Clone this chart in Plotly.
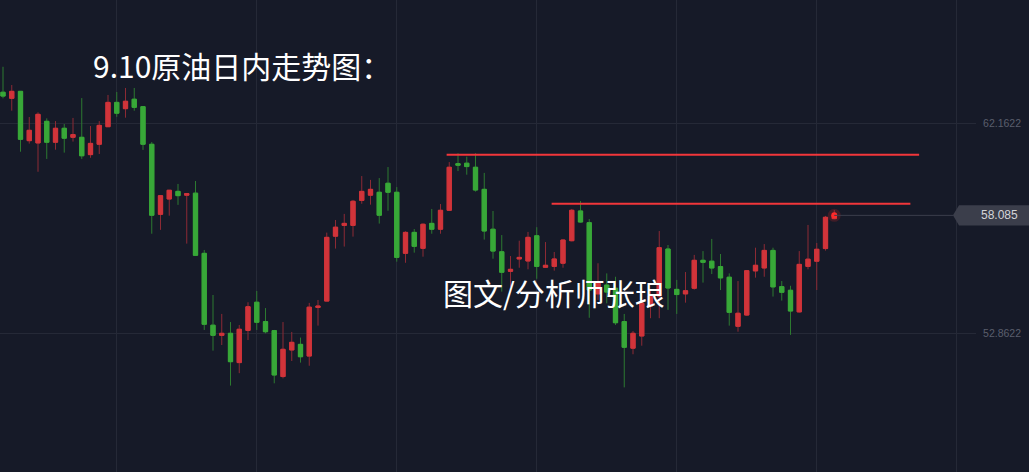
import plotly.graph_objects as go

# ---- data ----
open_ = [63.55, 63.28, 63.59, 61.40, 61.30, 62.26, 61.33, 61.95, 61.55, 61.55,
         60.78, 61.24, 62.02, 63.10, 62.82, 63.24, 62.91, 61.24, 58.13, 58.81,
         59.15, 58.98, 59.07, 56.40, 53.21, 52.76, 52.85, 51.55, 52.98, 54.23,
         53.37, 52.97, 50.93, 52.11, 52.36, 51.84, 54.00, 54.28, 57.16, 57.64,
         57.64, 58.75, 58.98, 59.11, 59.51, 59.11, 56.40, 57.33, 56.62, 57.73,
         57.47, 58.31, 60.38, 60.40, 60.22, 59.24, 57.47, 56.47, 55.60, 56.15,
         56.06, 57.18, 55.78, 55.82, 55.96, 56.96, 58.28, 57.76, 54.60, 54.99,
         54.85, 53.37, 52.19, 52.73, 54.06, 54.51, 56.59, 54.80, 54.60, 54.85,
         56.09, 56.05, 55.81, 55.34, 53.16, 53.66, 55.62, 55.75, 56.53, 54.92,
         54.76, 53.80, 55.82, 56.05, 56.61, 57.94]
high = [64.68, 63.87, 63.59, 62.45, 62.66, 62.39, 62.27, 62.14, 62.41, 63.29,
        62.05, 62.27, 63.43, 63.56, 63.74, 63.74, 62.94, 61.34, 58.99, 59.21,
        59.48, 59.07, 59.61, 56.55, 54.55, 53.71, 53.35, 53.22, 54.23, 54.73,
        53.97, 53.00, 53.35, 52.91, 52.66, 54.20, 54.33, 57.32, 57.88, 58.15,
        58.77, 59.83, 59.66, 59.74, 60.23, 59.34, 57.38, 57.48, 57.73, 58.37,
        58.59, 60.45, 60.84, 60.69, 60.84, 59.97, 58.28, 57.21, 56.28, 56.96,
        57.35, 57.56, 56.90, 56.46, 57.02, 58.37, 58.72, 57.92, 55.96, 55.51,
        55.36, 53.71, 52.95, 54.82, 54.77, 57.39, 56.77, 55.22, 55.57, 56.33,
        56.50, 57.04, 56.37, 55.51, 55.17, 55.66, 56.65, 56.81, 56.65, 55.17,
        54.96, 56.50, 57.66, 56.86, 58.06, 58.32]
low = [63.28, 62.73, 60.91, 61.27, 60.02, 60.59, 61.00, 60.87, 61.36, 60.59,
       60.64, 60.81, 62.02, 62.46, 62.42, 62.73, 60.99, 57.27, 57.44, 58.07,
       58.55, 56.83, 56.31, 53.00, 52.08, 52.33, 50.53, 51.08, 52.55, 53.00,
       52.85, 50.63, 50.85, 51.62, 51.55, 51.41, 53.19, 54.28, 56.61, 56.70,
       57.14, 58.60, 58.56, 57.72, 58.29, 56.03, 55.98, 56.43, 56.25, 57.27,
       57.27, 58.31, 60.05, 59.89, 59.14, 57.01, 56.16, 54.70, 54.92, 55.76,
       55.69, 55.27, 55.76, 55.63, 55.76, 56.93, 57.76, 53.54, 54.33, 54.18,
       53.22, 50.45, 51.92, 52.30, 53.52, 53.52, 53.89, 53.71, 54.21, 54.79,
       55.10, 55.48, 54.77, 53.19, 52.92, 53.63, 55.32, 55.36, 54.48, 54.30,
       52.78, 53.77, 55.69, 54.77, 56.52, 57.91]
close = [63.38, 63.59, 61.46, 61.86, 62.57, 61.33, 61.95, 61.51, 61.67, 60.73,
         61.28, 62.08, 63.10, 62.62, 63.15, 62.88, 61.24, 58.09, 58.96, 59.20,
         58.96, 59.05, 56.31, 53.25, 52.76, 52.85, 51.59, 53.03, 54.03, 53.34,
         52.92, 51.00, 52.14, 52.45, 51.81, 54.01, 54.06, 57.11, 57.56, 57.73,
         58.71, 59.15, 59.24, 58.09, 59.11, 56.22, 57.33, 56.71, 57.69, 57.47,
         58.31, 60.22, 60.31, 60.25, 59.21, 57.39, 56.50, 55.56, 55.69, 56.22,
         57.11, 55.82, 55.87, 56.15, 56.99, 58.31, 57.79, 54.77, 55.13, 54.68,
         53.32, 52.23, 52.85, 54.18, 54.51, 56.65, 54.86, 54.57, 54.74, 56.09,
         56.00, 55.75, 55.31, 53.78, 53.74, 55.63, 55.87, 56.53, 54.91, 54.67,
         53.84, 55.91, 56.14, 56.58, 58.00, 58.085]

# resistance lines: (level, start index, end index)
resistance_levels = [60.78, 58.60]
resistance_start = [50.7, 62.7]
resistance_end = [104.7, 103.7]

y_ticks = [52.8622, 62.1622]
title_text = "9.10原油日内走势图："
author_text = "图文/分析师张琅"
last_label = "58.085"

# ---- style ----
BG = "#161a28"
GRID = "#252937"
UP_BODY = "#d1343a"
DOWN_BODY = "#38a838"
UP_WICK = "#8c2a34"
DOWN_WICK = "#2c7a30"
LINE_RED = "#f2363a"
Y_MIN, Y_MAX = 46.694, 67.644
X_MIN, X_MAX = -0.343, 111.2

x = list(range(len(open_)))

fig = go.Figure()

# wicks (full range, dark colours)
fig.add_trace(go.Candlestick(
    x=x, open=open_, high=high, low=low, close=close,
    increasing=dict(line=dict(color=UP_WICK, width=1), fillcolor=UP_WICK),
    decreasing=dict(line=dict(color=DOWN_WICK, width=1), fillcolor=DOWN_WICK),
    whiskerwidth=0, showlegend=False, hoverinfo="skip"))

# bodies (bright colours) drawn on top
body_hi = [max(o, c) for o, c in zip(open_, close)]
body_lo = [min(o, c) for o, c in zip(open_, close)]
fig.add_trace(go.Candlestick(
    x=x, open=open_, high=body_hi, low=body_lo, close=close,
    increasing=dict(line=dict(color=UP_BODY, width=1), fillcolor=UP_BODY),
    decreasing=dict(line=dict(color=DOWN_BODY, width=1), fillcolor=DOWN_BODY),
    whiskerwidth=0, showlegend=False, hoverinfo="skip"))

# last price glow
last_x, last_c = x[-1], close[-1]
fig.add_trace(go.Scatter(x=[last_x], y=[last_c], mode="markers",
                         marker=dict(size=13, color="rgba(255,40,40,0.18)"),
                         showlegend=False, hoverinfo="skip"))
fig.add_trace(go.Scatter(x=[last_x], y=[last_c], mode="markers",
                         marker=dict(size=6, color="#ff2a2a"),
                         showlegend=False, hoverinfo="skip"))

shapes = []
for lvl, s, e in zip(resistance_levels, resistance_start, resistance_end):
    shapes.append(dict(type="line", xref="x", yref="y", x0=s, x1=e, y0=lvl, y1=lvl,
                       line=dict(color=LINE_RED, width=2)))

# last price connector and tag
shapes.append(dict(type="line", xref="x", yref="y", x0=last_x, x1=108.6,
                   y0=last_c, y1=last_c, line=dict(color="#3a3e4c", width=1)))
py = (last_c - Y_MIN) / (Y_MAX - Y_MIN)
hh = 0.0215
shapes.append(dict(type="path", xref="paper", yref="paper",
                   path=f"M 0.9764,{py} L 0.9826,{py+hh} L 1.06,{py+hh} L 1.06,{py-hh} L 0.9826,{py-hh} Z",
                   fillcolor="#3b3e4b", line=dict(width=0), layer="above"))

annotations = [
    dict(text=title_text, xref="paper", yref="paper", x=0.093, y=0.862,
         xanchor="left", yanchor="middle", showarrow=False,
         font=dict(family="Noto Sans CJK SC", size=30, color="#ffffff")),
    dict(text=author_text, xref="paper", yref="paper", x=0.452, y=0.381,
         xanchor="left", yanchor="middle", showarrow=False,
         font=dict(family="Noto Sans CJK SC", size=30, color="#ffffff")),
    dict(text=last_label, xref="paper", yref="paper", x=1.045, y=py,
         xanchor="right", yanchor="middle", showarrow=False,
         font=dict(family="Liberation Sans", size=12, color="#d4d4d8")),
]

fig.update_layout(
    width=1029, height=472,
    margin=dict(l=0, r=53, t=0, b=0, pad=0),
    paper_bgcolor=BG, plot_bgcolor=BG,
    boxmode="overlay",
    shapes=shapes, annotations=annotations,
    showlegend=False,
    xaxis=dict(range=[X_MIN, X_MAX], tick0=13, dtick=16, showgrid=True,
               gridcolor=GRID, gridwidth=1, zeroline=False, showticklabels=False,
               showline=False, ticks="", automargin=False,
               rangeslider=dict(visible=False), fixedrange=True),
    yaxis=dict(range=[Y_MIN, Y_MAX], side="right", tickvals=y_ticks,
               tickformat=".4f", showgrid=True, gridcolor=GRID, gridwidth=1,
               zeroline=False, showline=False, ticks="outside", ticklen=4,
               tickcolor=BG, automargin=False, fixedrange=True,
               tickfont=dict(family="Liberation Sans", size=10.5, color="#5a5e6c")),
)

fig.write_html("out.html", config={"displayModeBar": False},
               post_script="document.body.style.margin='0';document.body.style.background='" + BG + "';")
